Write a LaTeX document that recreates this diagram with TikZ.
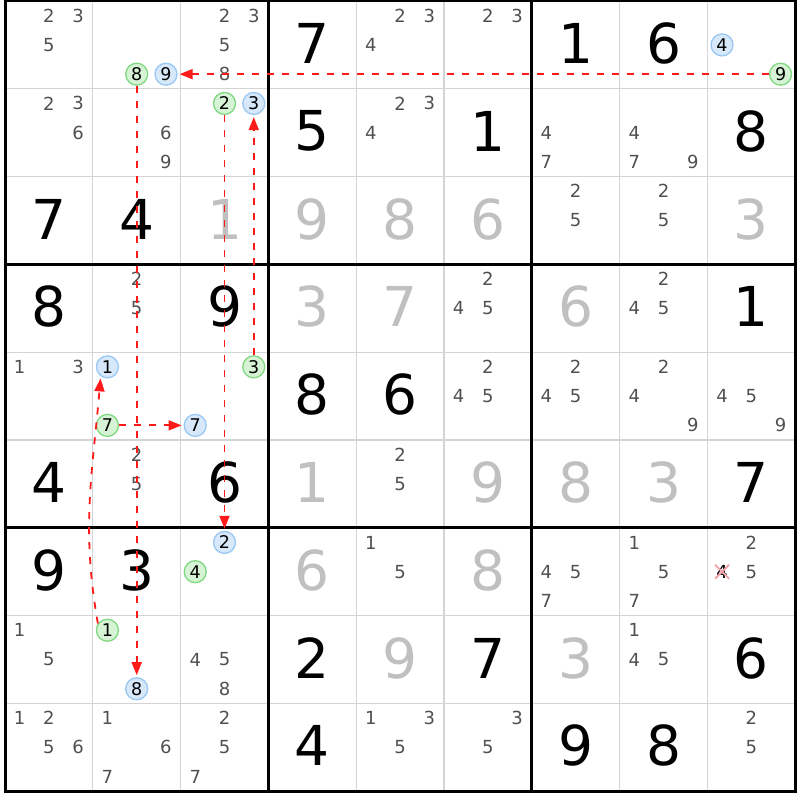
\documentclass[tikz,border=0pt]{standalone}
\usepackage{fontspec}
\setmainfont{DejaVu Sans}
\usetikzlibrary{arrows.meta}
\definecolor{candgray}{HTML}{505050}
\definecolor{solvedgray}{HTML}{C0C0C0}
\definecolor{thingray}{HTML}{D4D4D4}
\definecolor{gfill}{HTML}{D6F3D6}
\definecolor{gdraw}{HTML}{80D880}
\definecolor{bfill}{HTML}{D6E8FA}
\definecolor{bdraw}{HTML}{99C8F2}
\definecolor{linkred}{HTML}{FF1A1A}
\definecolor{crosspink}{HTML}{F4A0A8}
\tikzset{
  given/.style={inner sep=0pt, font=\fontsize{55}{60}\selectfont, text=black},
  solved/.style={inner sep=0pt, font=\fontsize{55}{60}\selectfont, text=solvedgray},
  cand/.style={inner sep=0pt, font=\fontsize{18}{20}\selectfont, text=candgray},
  candx/.style={inner sep=0pt, font=\fontsize{18}{20}\selectfont, text=black},
  gmark/.style={circle, minimum size=22pt, inner sep=0pt, fill=gfill, draw=gdraw, line width=1.3pt, font=\fontsize{17.5}{19}\selectfont, text=black},
  bmark/.style={circle, minimum size=22pt, inner sep=0pt, fill=bfill, draw=bdraw, line width=1.3pt, font=\fontsize{17.5}{19}\selectfont, text=black},
  thinline/.style={thingray, line width=1.2pt},
  thickline/.style={black, line width=3pt},
  link/.style={linkred, line width=1.8pt, dash pattern=on 7pt off 8pt, -{Triangle[length=13pt,width=10pt]}, shorten >=2pt},
  crossline/.style={crosspink, line width=1.8pt}
}
\newcommand{\DigitAt}[4]{\node[#1] (v#2#3) at ({5+(#3-0.5)*87.8},{-1-(#2-0.5)*87.8+1.5}) {#4};}
\newcommand{\Cands}[3]{\foreach \k in {#3}{\node[cand] (c#1#2-\k) at ({5+(#2-0.5)*87.8+(mod(\k-1,3)-1)*29.2667},{-1-(#1-0.5)*87.8-(floor((\k-1)/3)-1)*29.2667}) {\k};}}
\newcommand{\MarkAt}[5]{\node[#1] (#2) at ({5+(#4-0.5)*87.8+(mod(#5-1,3)-1)*29.2667},{-1-(#3-0.5)*87.8-(floor((#5-1)/3)-1)*29.2667}) {#5};}
\begin{document}
\begin{tikzpicture}[x=1pt,y=1pt]
\fill[white] (0,0) rectangle (800,-800);
\useasboundingbox (0,0) rectangle (800,-800);
% thin grid
\foreach \i in {1,2,4,5,7,8}{
  \draw[thinline] ({5+\i*87.8},-1) -- ({5+\i*87.8},-791.2);
  \draw[thinline] (5,{-1-\i*87.8}) -- (795.2,{-1-\i*87.8});
}
% given digits
\DigitAt{given}{1}{4}{7}\DigitAt{given}{1}{7}{1}\DigitAt{given}{1}{8}{6}
\DigitAt{given}{2}{4}{5}\DigitAt{given}{2}{6}{1}\DigitAt{given}{2}{9}{8}
\DigitAt{given}{3}{1}{7}\DigitAt{given}{3}{2}{4}
\DigitAt{given}{4}{1}{8}\DigitAt{given}{4}{3}{9}\DigitAt{given}{4}{9}{1}
\DigitAt{given}{5}{4}{8}\DigitAt{given}{5}{5}{6}
\DigitAt{given}{6}{1}{4}\DigitAt{given}{6}{3}{6}\DigitAt{given}{6}{9}{7}
\DigitAt{given}{7}{1}{9}\DigitAt{given}{7}{2}{3}
\DigitAt{given}{8}{4}{2}\DigitAt{given}{8}{6}{7}\DigitAt{given}{8}{9}{6}
\DigitAt{given}{9}{4}{4}\DigitAt{given}{9}{7}{9}\DigitAt{given}{9}{8}{8}
% solved digits
\DigitAt{solved}{3}{3}{1}\DigitAt{solved}{3}{4}{9}\DigitAt{solved}{3}{5}{8}\DigitAt{solved}{3}{6}{6}\DigitAt{solved}{3}{9}{3}
\DigitAt{solved}{4}{4}{3}\DigitAt{solved}{4}{5}{7}\DigitAt{solved}{4}{7}{6}
\DigitAt{solved}{6}{4}{1}\DigitAt{solved}{6}{6}{9}\DigitAt{solved}{6}{7}{8}\DigitAt{solved}{6}{8}{3}
\DigitAt{solved}{7}{4}{6}\DigitAt{solved}{7}{6}{8}
\DigitAt{solved}{8}{5}{9}\DigitAt{solved}{8}{7}{3}
% candidates
\Cands{1}{1}{2,3,5}\Cands{1}{3}{2,3,5,8}\Cands{1}{5}{2,3,4}\Cands{1}{6}{2,3}
\Cands{2}{1}{2,3,6}\Cands{2}{2}{6,9}\Cands{2}{5}{2,3,4}\Cands{2}{7}{4,7}\Cands{2}{8}{4,7,9}
\Cands{3}{7}{2,5}\Cands{3}{8}{2,5}
\Cands{4}{2}{2,5}\Cands{4}{6}{2,4,5}\Cands{4}{8}{2,4,5}
\Cands{5}{1}{1,3}\Cands{5}{6}{2,4,5}\Cands{5}{7}{2,4,5}\Cands{5}{8}{2,4,9}\Cands{5}{9}{4,5,9}
\Cands{6}{2}{2,5}\Cands{6}{5}{2,5}
\Cands{7}{5}{1,5}\Cands{7}{7}{4,5,7}\Cands{7}{8}{1,5,7}\Cands{7}{9}{2,5}
\Cands{8}{1}{1,5}\Cands{8}{3}{4,5,8}\Cands{8}{8}{1,4,5}
\Cands{9}{1}{1,2,5,6}\Cands{9}{2}{1,6,7}\Cands{9}{3}{2,5,7}\Cands{9}{5}{1,3,5}\Cands{9}{6}{3,5}\Cands{9}{9}{2,5}
% eliminated candidate
\node[candx] (x79) at ({5+8.5*87.8-29.2667},{-1-6.5*87.8}) {4};
\draw[crossline] ([shift={(-7,-7)}]x79.center) -- ([shift={(7,7)}]x79.center);
\draw[crossline] ([shift={(-7,7)}]x79.center) -- ([shift={(7,-7)}]x79.center);
% thick grid
\foreach \i in {3,6}{
  \draw[thickline] ({5+\i*87.8},-1) -- ({5+\i*87.8},-791.2);
  \draw[thickline] (5,{-1-\i*87.8}) -- (795.2,{-1-\i*87.8});
}
\draw[thickline] (5,-1) rectangle (795.2,-791.2);
% marks
\MarkAt{gmark}{g12}{1}{2}{8}\MarkAt{bmark}{b12}{1}{2}{9}
\MarkAt{bmark}{b19}{1}{9}{4}\MarkAt{gmark}{g19}{1}{9}{9}
\MarkAt{gmark}{g23}{2}{3}{2}\MarkAt{bmark}{b23}{2}{3}{3}
\MarkAt{bmark}{b52}{5}{2}{1}\MarkAt{gmark}{g52}{5}{2}{7}
\MarkAt{gmark}{g53}{5}{3}{3}\MarkAt{bmark}{b53}{5}{3}{7}
\MarkAt{bmark}{b73}{7}{3}{2}\MarkAt{gmark}{g73}{7}{3}{4}
\MarkAt{gmark}{g82}{8}{2}{1}\MarkAt{bmark}{b82}{8}{2}{8}
% links
\draw[link] (g19) -- (b12);
\draw[link] (g12) -- (b82);
\draw[link] (g23) -- (b73);
\draw[link] (g53) -- (b23);
\draw[link] (g52) -- (b53);
\draw[link] (g82.145) .. controls +(100:97) and +(265:97) .. (b52.235);
\end{tikzpicture}
\end{document}
